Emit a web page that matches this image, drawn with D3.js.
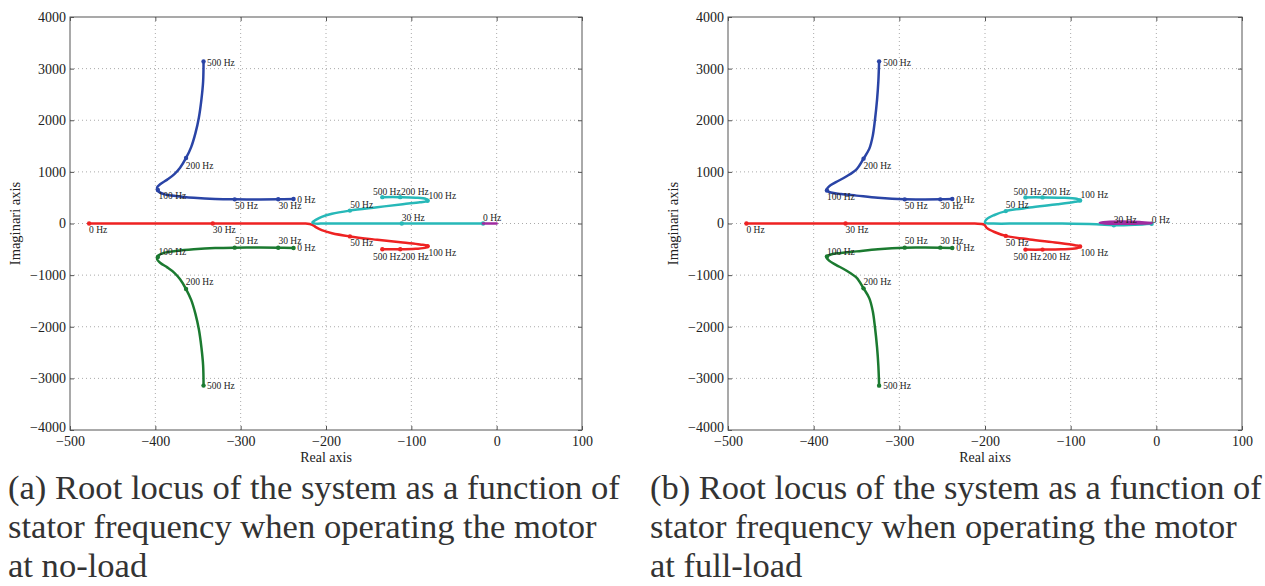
<!DOCTYPE html>
<html>
<head>
<meta charset="utf-8">
<script src="https://cdn.jsdelivr.net/npm/d3@7"></script>
<style>
  body { margin: 0; background: #fff; }
  svg { display: block; }
  text { font-family: 'Liberation Serif', 'Times New Roman', serif; }
</style>
</head>
<body>
<script>
// axis ticks (same for both panels)
const xTicks = [-500, -400, -300, -200, -100, 0, 100];
const yTicks = [-4000, -3000, -2000, -1000, 0, 1000, 2000, 3000, 4000];

// ---- (a) no-load ----
const noLoadBlue = [[-238,474],[-256,469],[-280,467],[-307,468],[-330,476],[-355,500],[-375,530],[-389,565],
  [-396,615],[-398,690],[-394,765],[-386,850],[-378,950],[-371,1080],[-364,1270],[-358,1480],[-353,1750],
  [-349,2050],[-346,2400],[-344,2750],[-343.5,3140]];
const noLoadBlueMarks = [[-238,474],[-256,469],[-307,468],[-397,650],[-364,1270],[-343.5,3140]];
const noLoadBlueLabels = [[-233.8,468,'0 Hz'],[-255.7,340,'30 Hz'],[-306.7,340,'50 Hz'],[-396.2,532,'100 Hz'],
  [-364.4,1122,'200 Hz'],[-339.4,3122,'500 Hz']];

const noLoadGreen = [[-238,-474],[-256,-469],[-280,-467],[-307,-468],[-330,-476],[-355,-500],[-375,-530],[-389,-565],
  [-396,-615],[-398,-690],[-394,-765],[-386,-850],[-378,-950],[-371,-1080],[-364,-1270],[-358,-1480],[-353,-1750],
  [-349,-2050],[-346,-2400],[-344,-2750],[-343.5,-3140]];
const noLoadGreenMarks = [[-238,-474],[-256,-469],[-307,-468],[-397,-650],[-364,-1270],[-343.5,-3140]];
const noLoadGreenLabels = [[-233.8,-474,'0 Hz'],[-255.7,-333,'30 Hz'],[-306.7,-333,'50 Hz'],[-396.2,-545,'100 Hz'],
  [-364.4,-1135,'200 Hz'],[-339.4,-3135,'500 Hz']];

const noLoadRed = [[-477.6,0],[-420,0],[-332.7,0],[-280,0],[-240,0],[-224,-2],[-216,-25],[-212,-70],[-205,-130],
  [-193,-190],[-172,-250],[-140,-315],[-110,-370],[-90,-405],[-80,-435],[-83,-468],[-95,-490],[-113,-500],[-134,-500]];
const noLoadRedMarks = [[-477.6,0],[-332.7,0],[-172,-250],[-81,-440],[-113,-500],[-134,-500]];
const noLoadRedLabels = [[-477.6,-128,'0 Hz'],[-332.7,-128,'30 Hz'],[-171.6,-378,'50 Hz'],[-79.9,-558,'100 Hz'],
  [-112,-641,'200 Hz'],[-145,-641,'500 Hz']];

const noLoadCyan = [[-15.9,0],[-60,0],[-111.2,0],[-160,0],[-200,0],[-214,2],[-216,25],[-212,70],[-205,130],
  [-193,190],[-172,250],[-140,315],[-110,375],[-90,410],[-80,440],[-83,475],[-95,500],[-113,510],[-134,510]];
const noLoadCyanMarks = [[-15.9,0],[-111.2,0],[-172,250],[-81,440],[-113,510],[-134,510]];
const noLoadCyanLabels = [[-15.9,115,'0 Hz'],[-111.2,115,'30 Hz'],[-171.6,372,'50 Hz'],[-79.9,545,'100 Hz'],
  [-112,615,'200 Hz'],[-145,615,'500 Hz']];

const noLoadPurple = [[-16,0],[0,0]];

// ---- (b) full-load ----
const fullLoadBlue = [[-238.2,474],[-252.2,468],[-270,466],[-293.7,468],[-325,498],[-350,540],[-368,570],[-380,600],
  [-385,650],[-382,720],[-374,800],[-362,910],[-350,1050],[-341.8,1256],[-335,1450],[-331,1700],[-328.5,2000],
  [-326,2400],[-324.5,2750],[-323.6,3141]];
const fullLoadBlueMarks = [[-238.2,474],[-252.2,468],[-293.7,468],[-384.5,640],[-341.8,1256],[-323.6,3141]];
const fullLoadBlueLabels = [[-233.6,455,'0 Hz'],[-252.2,340,'30 Hz'],[-293.7,340,'50 Hz'],[-384.3,519,'100 Hz'],
  [-341.8,1115,'200 Hz'],[-318.9,3122,'500 Hz']];

const fullLoadGreen = [[-238.2,-474],[-252.2,-468],[-270,-466],[-293.7,-468],[-325,-498],[-350,-540],[-368,-570],[-380,-600],
  [-385,-650],[-382,-720],[-374,-800],[-362,-910],[-350,-1050],[-341.8,-1256],[-335,-1450],[-331,-1700],[-328.5,-2000],
  [-326,-2400],[-324.5,-2750],[-323.6,-3141]];
const fullLoadGreenMarks = [[-238.2,-474],[-252.2,-468],[-293.7,-468],[-384.5,-640],[-341.8,-1256],[-323.6,-3141]];
const fullLoadGreenLabels = [[-233.6,-474,'0 Hz'],[-252.2,-333,'30 Hz'],[-293.7,-333,'50 Hz'],[-384.3,-538,'100 Hz'],
  [-341.8,-1122,'200 Hz'],[-318.9,-3135,'500 Hz']];

const fullLoadRed = [[-478.5,0],[-420,0],[-362.8,0],[-300,0],[-240,0],[-212,-2],[-201,-20],[-198,-85],[-189,-165],
  [-175.7,-240],[-148,-308],[-115.5,-372],[-95,-420],[-88.4,-445],[-93,-478],[-110.8,-500],[-132.8,-506],[-152.8,-506]];
const fullLoadRedMarks = [[-478.5,0],[-362.8,0],[-175.7,-240],[-89,-445],[-132.8,-506],[-152.8,-506]];
const fullLoadRedLabels = [[-478.5,-128,'0 Hz'],[-362.8,-128,'30 Hz'],[-175.7,-365,'50 Hz'],[-88.4,-570,'100 Hz'],
  [-132.8,-647,'200 Hz'],[-166.8,-647,'500 Hz']];

const fullLoadCyan = [[-5.5,-5],[-25,-25],[-49.6,-35],[-70,-15],[-110,0],[-160,0],[-190,0],[-200,18],[-198,85],
  [-189,165],[-175.7,240],[-148,308],[-115.5,372],[-95,420],[-88.4,445],[-93,478],[-110.8,500],[-132.8,506],[-152.8,506]];
const fullLoadCyanMarks = [[-5.5,-5],[-49.6,-35],[-175.7,240],[-89,445],[-132.8,506],[-152.8,506]];
const fullLoadCyanLabels = [[-5.3,83,'0 Hz'],[-49.6,72,'30 Hz'],[-175.7,359,'50 Hz'],[-88.4,551,'100 Hz'],
  [-132.8,622,'200 Hz'],[-166.8,622,'500 Hz']];

const fullLoadPurple = [[-5.5,10],[-20,30],[-40,38],[-58,30],[-66,15],[-60,2],[-45,-5],[-25,-3],[-8,4],[-5.5,10]];

// captions
const captionA = ['(a) Root locus of the system as a function of', 'stator frequency when operating the motor', 'at no-load'];
const captionB = ['(b) Root locus of the system as a function of', 'stator frequency when operating the motor', 'at full-load'];

const colors = { blue: '#2a44a6', green: '#1b7a30', red: '#ee2222', cyan: '#27b8b8', purple: '#a02ca0' };

const svg = d3.select('body').append('svg')
  .attr('width', 1265)
  .attr('height', 586);

function drawPanel(cfg) {
  const x = d3.scaleLinear().domain([-500, 100]).range([cfg.left, cfg.right]);
  const y = d3.scaleLinear().domain([-4000, 4000]).range([430, 17]);
  const g = svg.append('g');

  // dotted grid
  g.selectAll('.gx').data(xTicks.slice(1, -1)).join('line')
    .attr('x1', d => x(d)).attr('x2', d => x(d))
    .attr('y1', y(4000)).attr('y2', y(-4000))
    .attr('stroke', '#aaa').attr('stroke-width', 1).attr('stroke-dasharray', '1,3');
  g.selectAll('.gy').data(yTicks.slice(1, -1)).join('line')
    .attr('y1', d => y(d)).attr('y2', d => y(d))
    .attr('x1', x(-500)).attr('x2', x(100))
    .attr('stroke', '#aaa').attr('stroke-width', 1).attr('stroke-dasharray', '1,3');

  // axes (inward ticks like matlab)
  const fmt = d3.format('d');
  g.append('g').attr('transform', `translate(0,${y(-4000)})`)
    .call(d3.axisBottom(x).tickValues(xTicks).tickFormat(fmt).tickSizeInner(-4).tickSizeOuter(0).tickPadding(6));
  g.append('g').attr('transform', `translate(${x(-500)},0)`)
    .call(d3.axisLeft(y).tickValues(yTicks).tickFormat(fmt).tickSizeInner(-4).tickSizeOuter(0).tickPadding(4));
  g.append('g').attr('transform', `translate(0,${y(4000)})`)
    .call(d3.axisTop(x).tickValues(xTicks).tickFormat('').tickSizeInner(-4).tickSizeOuter(0));
  g.append('g').attr('transform', `translate(${x(100)},0)`)
    .call(d3.axisRight(y).tickValues(yTicks).tickFormat('').tickSizeInner(-4).tickSizeOuter(0));
  g.selectAll('.domain').remove();
  g.selectAll('.tick line').attr('stroke', '#555');
  g.selectAll('.tick text')
    .attr('font-family', null)
    .attr('font-size', 14).attr('fill', '#222');
  // lift the lowest y label a little, like the reference
  g.selectAll('.tick text').filter(d => d === -4000).attr('dy', '0.1em');

  // box
  g.append('rect')
    .attr('x', x(-500)).attr('y', y(4000))
    .attr('width', x(100) - x(-500)).attr('height', y(-4000) - y(4000))
    .attr('fill', 'none').attr('stroke', '#555').attr('stroke-width', 1);

  // axis titles
  g.append('text')
    .attr('x', (x(-500) + x(100)) / 2).attr('y', 462)
    .attr('text-anchor', 'middle')
    .attr('font-size', 14).attr('fill', '#222')
    .text(cfg.xTitle);
  g.append('text')
    .attr('transform', `translate(${x(-500) - 50},${y(0)}) rotate(-90)`)
    .attr('text-anchor', 'middle')
    .attr('font-size', 14.5).attr('fill', '#222')
    .text('Imaginari axis');

  const line = d3.line()
    .x(d => x(d[0])).y(d => y(d[1]))
    .curve(d3.curveCatmullRom.alpha(0.5));

  cfg.series.forEach(s => {
    g.append('path')
      .attr('d', line(s.points))
      .attr('fill', 'none')
      .attr('stroke', s.color)
      .attr('stroke-width', 2.5)
      .attr('stroke-linejoin', 'round')
      .attr('stroke-linecap', 'round');
    g.selectAll(null).data(s.marks).join('circle')
      .attr('cx', d => x(d[0])).attr('cy', d => y(d[1]))
      .attr('r', 2.2).attr('fill', s.color);
  });

  cfg.series.forEach(s => {
    g.selectAll(null).data(s.labels).join('text')
      .attr('x', d => x(d[0])).attr('y', d => y(d[1]))
      .attr('dy', '0.35em')
      .attr('font-size', 9.5).attr('fill', '#222')
      .text(d => d[2]);
  });

  // caption, sized so the first line fills the panel width
  const cap = svg.append('g');
  const lines = cap.selectAll('text').data(cfg.caption).join('text')
    .attr('x', cfg.capX)
    .attr('y', (d, i) => 499 + i * 39)
    .attr('font-size', 28)
    .attr('fill', '#333')
    .text(d => d);
  const w = lines.node().getComputedTextLength();
  lines.attr('font-size', 28 * cfg.capWidth / w);
}

drawPanel({
  left: 70, right: 582, xTitle: 'Real axis', caption: captionA, capX: 8, capWidth: 612,
  series: [
    { color: colors.red, points: noLoadRed, marks: noLoadRedMarks, labels: noLoadRedLabels },
    { color: colors.cyan, points: noLoadCyan, marks: noLoadCyanMarks, labels: noLoadCyanLabels },
    { color: colors.purple, points: noLoadPurple, marks: [], labels: [] },
    { color: colors.blue, points: noLoadBlue, marks: noLoadBlueMarks, labels: noLoadBlueLabels },
    { color: colors.green, points: noLoadGreen, marks: noLoadGreenMarks, labels: noLoadGreenLabels }
  ]
});

drawPanel({
  left: 728, right: 1242, xTitle: 'Real aixs', caption: captionB, capX: 650, capWidth: 612,
  series: [
    { color: colors.red, points: fullLoadRed, marks: fullLoadRedMarks, labels: fullLoadRedLabels },
    { color: colors.cyan, points: fullLoadCyan, marks: fullLoadCyanMarks, labels: fullLoadCyanLabels },
    { color: colors.purple, points: fullLoadPurple, marks: [], labels: [] },
    { color: colors.blue, points: fullLoadBlue, marks: fullLoadBlueMarks, labels: fullLoadBlueLabels },
    { color: colors.green, points: fullLoadGreen, marks: fullLoadGreenMarks, labels: fullLoadGreenLabels }
  ]
});
</script>
</body>
</html>
